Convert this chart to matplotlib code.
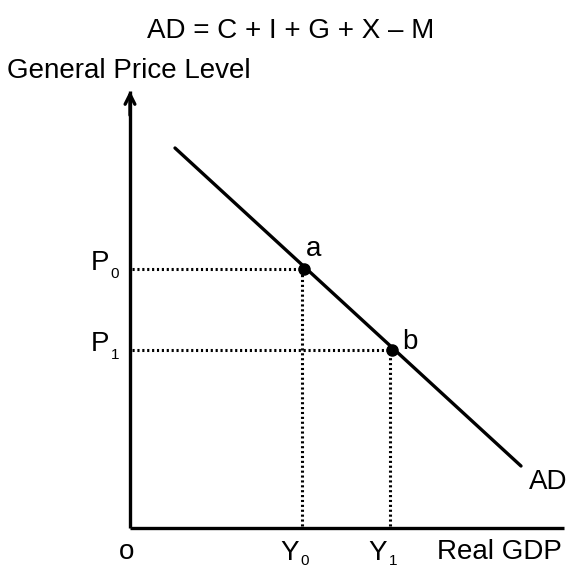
import matplotlib
matplotlib.use("Agg")
import matplotlib.pyplot as plt

plt.rcParams['font.family'] = ['Liberation Sans', 'DejaVu Sans']

# Data (diagram coordinates, origin at o)
ad_x = [45, 391]
ad_y = [380, 62]
point_labels = ["a", "b"]
point_x = [174, 262]
point_y = [259, 178]
price_labels = ["P", "P"]
price_subs = ["0", "1"]
gdp_labels = ["Y", "Y"]
gdp_subs = ["0", "1"]
axis_x_max = 437
axis_y_max = 440

fig = plt.figure(figsize=(5.68, 5.68), dpi=100)
ax = fig.add_axes([0, 0, 1, 1])
ax.set_xlim(-130, 438)
ax.set_ylim(-40, 528)
ax.axis('off')

lw_axis = 2.4
# axes
ax.plot([0, 0], [0, axis_y_max - 3], color='black', lw=lw_axis, solid_capstyle='butt')
ax.plot([0, axis_x_max - 3], [0, 0], color='black', lw=lw_axis, solid_capstyle='butt')
ax.annotate('', xy=(0, axis_y_max), xytext=(0, axis_y_max - 30),
            arrowprops=dict(arrowstyle='->,head_length=0.7,head_width=0.35', lw=lw_axis, color='black'))
ax.annotate('', xy=(axis_x_max + 3, 0), xytext=(axis_x_max - 30, 0),
            arrowprops=dict(arrowstyle='->,head_length=0.7,head_width=0.35', lw=lw_axis, color='black'))

fs = 20
sfs = 11
# AD curve
ax.plot(ad_x, ad_y, color='black', lw=2.4, solid_capstyle='round')
ax.text(ad_x[1] + 8, ad_y[1] - 16, "AD", fontsize=fs, ha='left', va='center')

# dotted guides and points
for lab, px, py, pl, ps, gl, gs in zip(point_labels, point_x, point_y,
                                       price_labels, price_subs, gdp_labels, gdp_subs):
    ax.plot([2, px], [py, py], color='black', lw=2.2, linestyle=(0, (0.7, 0.9)))
    ax.plot([px - 2, px - 2], [2, py], color='black', lw=2.2, linestyle=(0, (0.7, 0.9)))
    ax.plot([px], [py], 'o', color='black', ms=8)
    ax.text(px + 2 + (8 if lab == "b" else 0), py + (20 if lab == "a" else 8), lab,
            fontsize=fs, ha='left', va='center')
    ax.text(-30, py + 6, pl, fontsize=fs, ha='center', va='center')
    ax.text(-15, py - 5, ps, fontsize=sfs, ha='center', va='center')
    ax.text(px - 14, -25, gl, fontsize=fs, ha='center', va='center')
    ax.text(px + 1, -33, gs, fontsize=sfs, ha='center', va='center')

ax.text(-3, -24, "o", fontsize=fs, ha='center', va='center')
ax.text(307, -24, "Real GDP", fontsize=fs, ha='left', va='center')
ax.text(-123, 457, "General Price Level", fontsize=fs, ha='left', va='center')
ax.text(17, 497, "AD = C + I + G + X \u2013 M", fontsize=fs, ha='left', va='center')

fig.savefig("out.png", dpi=100)
